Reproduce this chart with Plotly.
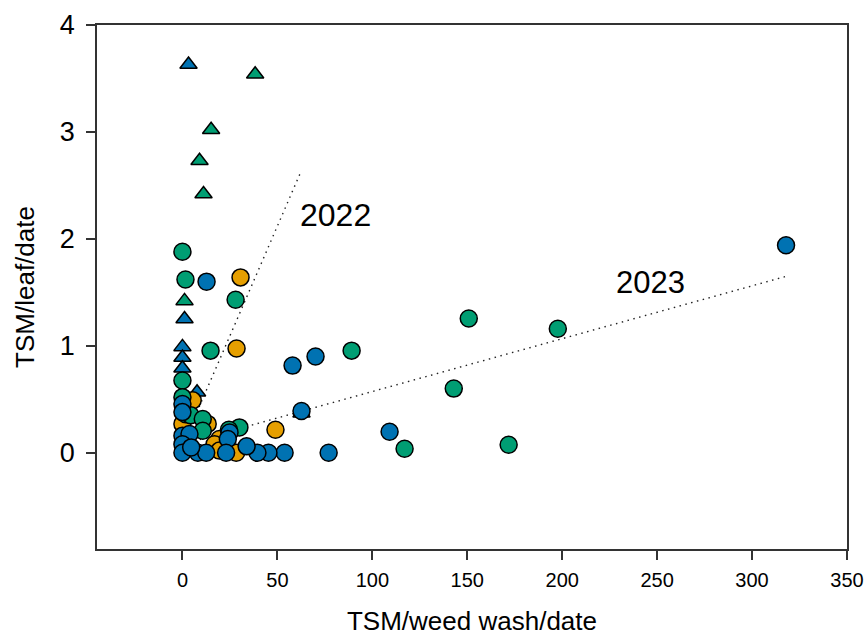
import plotly.graph_objects as go

# ---- data ----
blue_circ_x = [317.9, 70.1, 58.0, 62.7, 109.1, 77.0, 53.8, 45.3, 39.5, 33.8, 12.7, 0.0, 0.0, 24.8, 0.0, 3.7, 23.9, 0.0, 0.0, 8.1, 12.5, 23.0, 4.6]
blue_circ_y = [1.94, 0.90, 0.815, 0.39, 0.197, 0.0, 0.0, 0.0, 0.0, 0.06, 1.60, 0.456, 0.38, 0.19, 0.16, 0.175, 0.128, 0.08, 0.0, 0.0, 0.0, 0.0, 0.05]

green_circ_x = [150.8, 197.7, 89.1, 142.9, 171.8, 117.0, 30.0, 1.6, 0.0, 28.0, 14.8, 0.0, 0.0, 1.7, 4.3, 10.7, 10.7, 24.5]
green_circ_y = [1.255, 1.16, 0.955, 0.60, 0.075, 0.037, 0.237, 1.62, 1.88, 1.43, 0.955, 0.675, 0.52, 0.36, 0.35, 0.315, 0.206, 0.215]

orange_circ_x = [49.0, 30.6, 28.5, 5.4, 0.0, 13.3, 19.5, 16.9, 28.3, 19.5]
orange_circ_y = [0.215, 1.64, 0.975, 0.49, 0.27, 0.27, 0.128, 0.08, 0.0, 0.02]

blue_tri_x = [3.2, 1.1, 0.0, 0.0, 0.0, 7.7, 62.7]
blue_tri_y = [3.63, 1.25, 0.99, 0.89, 0.79, 0.565, 0.37]

green_tri_x = [38.3, 15.1, 9.0, 11.1, 1.1]
green_tri_y = [3.54, 3.02, 2.73, 2.42, 1.42]

trend_2022_x = [0.0, 62.2]
trend_2022_y = [0.067, 2.62]
trend_2023_x = [0.0, 318.0]
trend_2023_y = [0.078, 1.65]

x_ticks = [0, 50, 100, 150, 200, 250, 300, 350]
y_ticks = [0, 1, 2, 3, 4]

BLUE = "#0072B2"
GREEN = "#009E73"
ORANGE = "#E69F00"
FONT = "Liberation Sans, Arial, sans-serif"

fig = go.Figure()

for lx, ly in [(trend_2022_x, trend_2022_y), (trend_2023_x, trend_2023_y)]:
    fig.add_trace(go.Scatter(x=lx, y=ly, mode="lines",
                             line=dict(color="#222222", width=1.4, dash="1.5px,4.5px"),
                             hoverinfo="skip", showlegend=False))

def add_markers(xs, ys, color, symbol, size):
    fig.add_trace(go.Scatter(x=xs, y=ys, mode="markers", showlegend=False,
                             marker=dict(color=color, symbol=symbol, size=size,
                                         line=dict(color="black", width=1.5))))

add_markers(green_tri_x, green_tri_y, GREEN, "triangle-up", 15)
add_markers(blue_tri_x, blue_tri_y, BLUE, "triangle-up", 15)
add_markers(orange_circ_x, orange_circ_y, ORANGE, "circle", 17)
add_markers(green_circ_x, green_circ_y, GREEN, "circle", 17)
add_markers(blue_circ_x, blue_circ_y, BLUE, "circle", 17)

fig.add_annotation(x=80.5, y=2.22, text="2022", showarrow=False,
                   font=dict(family=FONT, size=32, color="black"))
fig.add_annotation(x=246.7, y=1.59, text="2023", showarrow=False,
                   font=dict(family=FONT, size=31, color="black"))

axis_common = dict(showline=True, linecolor="#333333", linewidth=1.5, mirror=True,
                   ticks="outside", ticklen=9, tickwidth=1.5, tickcolor="#333333",
                   showgrid=False, zeroline=False, automargin=False)

fig.update_xaxes(range=[-45, 350], tickvals=x_ticks,
                 ticktext=[str(v) for v in x_ticks],
                 tickfont=dict(family=FONT, size=20, color="black"),
                 ticklabelstandoff=3,
                 title=dict(text="TSM/weed wash/date", standoff=22,
                            font=dict(family=FONT, size=26, color="black")),
                 **axis_common)
fig.update_yaxes(range=[-0.9, 4], tickvals=y_ticks,
                 ticktext=[str(v) for v in y_ticks],
                 tickfont=dict(family=FONT, size=27, color="black"),
                 ticklabelstandoff=6,
                 title=dict(text="TSM/leaf/date", standoff=18,
                            font=dict(family=FONT, size=26, color="black")),
                 **axis_common)

fig.update_layout(width=868, height=636, plot_bgcolor="white", paper_bgcolor="white",
                  margin=dict(l=97, r=21, t=25, b=87), showlegend=False)

fig.write_html("out.html", config={"displayModeBar": False},
               post_script="document.body.style.margin='0px';document.body.style.overflow='hidden';")
